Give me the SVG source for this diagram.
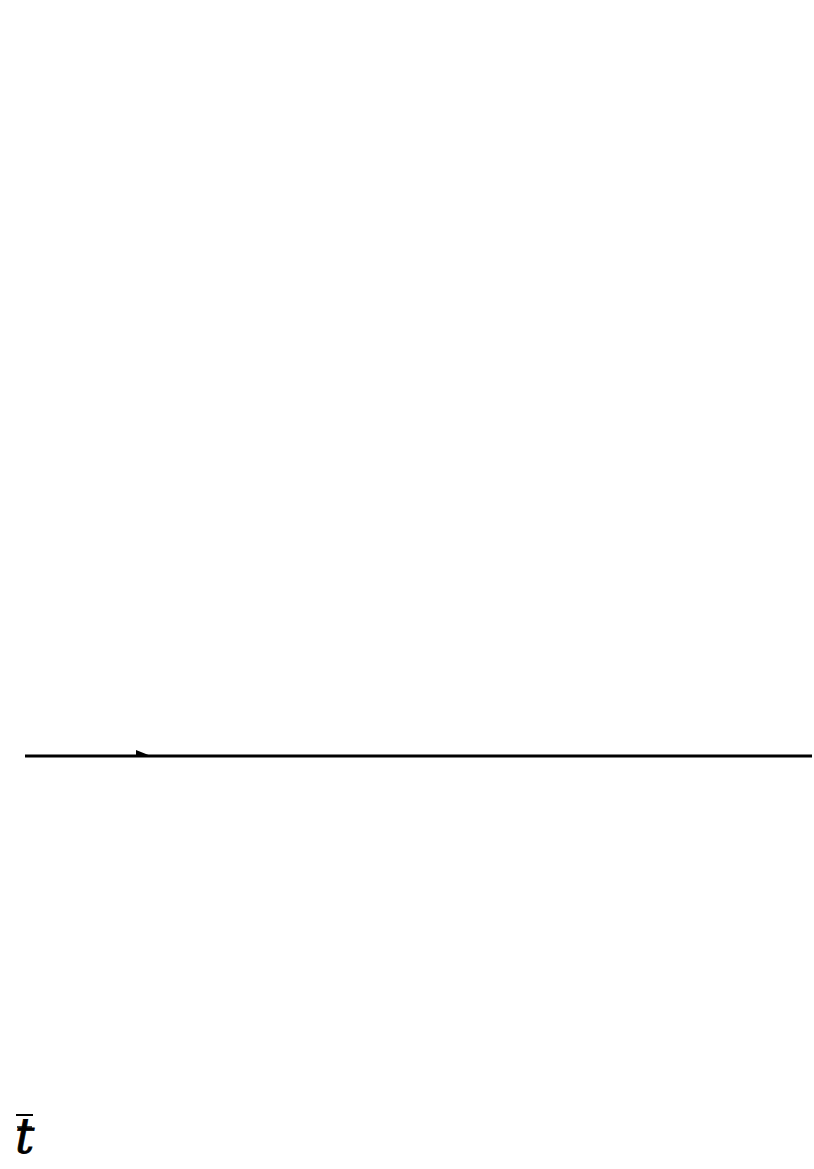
<svg xmlns="http://www.w3.org/2000/svg" width="814" height="1169" viewBox="0 0 814 1169">
<style>
.ln{stroke:#000;stroke-width:3;fill:none}
.lbl{font-family:'DejaVu Serif','Liberation Serif',serif;font-style:italic;fill:#000}
</style>
<rect width="814" height="1169" fill="#fff"/>
<g id="connectors">
<line class="ln" x1="25" y1="756" x2="812" y2="756"/>
<polygon points="136,750 136,756 151,756" fill="#000"/>
</g>
<g id="label">
<line x1="16" y1="1115" x2="33" y2="1115" stroke="#000" stroke-width="2"/>
<text class="lbl" x="15" y="1153" font-size="48" stroke="#000" stroke-width="0.8">t</text>
<line x1="17" y1="1127" x2="32" y2="1127" stroke="#000" stroke-width="1.5"/>
</g>
</svg>
